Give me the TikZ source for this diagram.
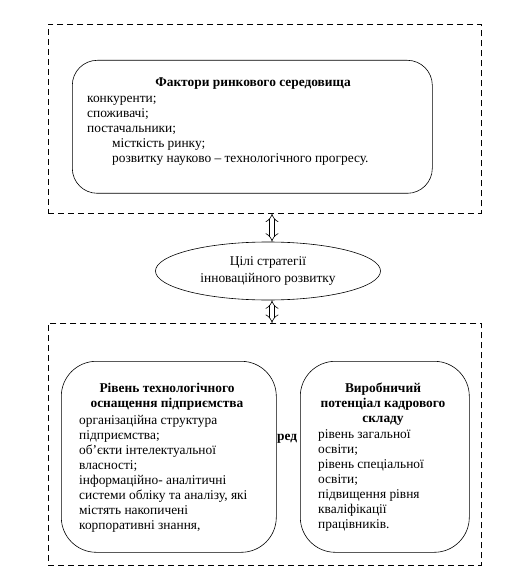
\documentclass[tikz,border=0pt]{standalone}
\usepackage{fontspec}
\setmainfont{Liberation Serif}
\usetikzlibrary{shapes.geometric,arrows.meta}
\tikzset{
  dashbox/.style={draw, dash pattern=on 6pt off 4pt, line width=0.6pt, inner sep=0pt},
  rbox/.style={draw, fill=white, line width=0.6pt, inner sep=0pt},
  txt/.style={inner sep=0pt, anchor=north west, align=left},
  ttl/.style={inner sep=0pt, font=\fontsize{13.4}{15}\selectfont\bfseries, align=center},
  dblarrow/.style={double, double distance=4pt, line width=0.6pt, {Implies}-{Implies}}
}
\begin{document}
\begin{tikzpicture}[x=1pt,y=-1pt, font=\fontsize{13.4}{15}\selectfont]
\useasboundingbox (0,0) rectangle (529,577);
% top block
\node[dashbox, minimum width=433pt, minimum height=189pt, anchor=north west] (top) at (48,24) {};
\node[rbox, rounded corners=25pt, minimum width=360pt, minimum height=133pt, anchor=north west] (f) at (72,60) {};
\node[ttl] (ftitle) at (253,84) {Фактори ринкового середовища};
\node[txt] (flist) at (87,96) {конкуренти;\\споживачі;\\постачальники;\\\hspace*{25pt}місткість ринку;\\\hspace*{25pt}розвитку науково – технологічного прогресу.};
% goals
\node[draw, ellipse, line width=0.6pt, minimum width=225pt, minimum height=58pt, align=center, inner sep=0pt, font=\fontsize{13.4}{17}\selectfont] (goal) at (268,271) {Цілі стратегії\\інноваційного розвитку};
% bottom block
\node[dashbox, minimum width=433pt, minimum height=242pt, anchor=north west] (bot) at (48,323) {};
\node[ttl, anchor=west] (mid) at (277,439) {ред};
\node[rbox, rounded corners=35pt, minimum width=215pt, minimum height=191pt, anchor=north west] (lbox) at (61,361) {};
\node[rbox, rounded corners=35pt, minimum width=169pt, minimum height=191pt, anchor=north west] (rbox) at (300,361) {};
\node[ttl] (ltitle) at (167,397) {Рівень технологічного\\оснащення підприємства};
\node[txt] (llist) at (79,415) {організаційна структура\\підприємства;\\об’єкти інтелектуальної\\власності;\\інформаційно- аналітичні\\системи обліку та аналізу, які\\містять накопичені\\корпоративні знання,};
\node[ttl] (rtitle) at (383,404) {Виробничий\\потенціал кадрового\\складу};
\node[txt] (rlist) at (318,429) {рівень загальної\\освіти;\\рівень спеціальної\\освіти;\\підвищення  рівня\\кваліфікації\\працівників.};
% arrows
\coordinate (ax) at (272,0);
\draw[dblarrow] (top.south -| ax) -- (goal.north -| ax);
\draw[dblarrow] (goal.south -| ax) -- (bot.north -| ax);
\end{tikzpicture}
\end{document}
